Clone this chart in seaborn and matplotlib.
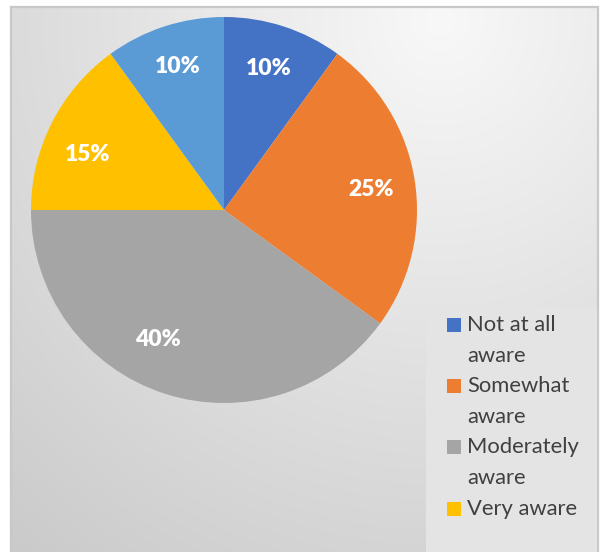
import numpy as np
import matplotlib
matplotlib.use("Agg")
import matplotlib.pyplot as plt
from matplotlib.patches import Rectangle
import seaborn as sns

# Awareness survey shares (percent)
categories = ["Not at all aware", "Somewhat aware", "Moderately aware", "Very aware", "Extremely aware"]
shares = [10, 25, 40, 15, 10]
legend_lines = [["Not at all", "aware"], ["Somewhat", "aware"], ["Moderately", "aware"], ["Very aware"]]
colors = sns.color_palette(["#4472C4", "#ED7D31", "#A5A5A5", "#FFC000", "#5B9BD5"])

sns.set_theme(style="white")
plt.rcParams["font.family"] = ["Lato", "DejaVu Sans"]

W, H = 601, 552
fig = plt.figure(figsize=(W / 100, H / 100), dpi=100)
fig.patch.set_facecolor("white")
ax = fig.add_axes([0, 0, 1, 1])
ax.set_axis_off()

# chart area: light radial gradient inside a thin grey frame
left, right, top = 11, 598, H - 7
yy, xx = np.mgrid[0:H, 0:W]
dist = np.hypot(xx - 440, yy - 20)
shade = np.clip(248 - 0.068 * dist, 190, 250) / 255.0
grad = np.dstack([shade, shade, shade])[7:, left:right]
ax.imshow(grad, extent=[left, right, -10, top], origin="upper", zorder=0, aspect="auto")
ax.plot([left, left, right, right], [-10, top, top, -10], color="#c8c8c8", lw=1.6, zorder=1,
        solid_joinstyle="miter")

# pie, clockwise from 12 o'clock
cx, cy, R = 224, H - 210, 193
wedges, _, autotexts = ax.pie(
    shares, colors=colors, startangle=90, counterclock=False,
    center=(cx, cy), radius=R, autopct=lambda p: f"{p:.0f}%", pctdistance=0.77,
    wedgeprops=dict(linewidth=0), textprops=dict(color="white", fontsize=16.5, fontweight="heavy"),
)
# small per-label shifts (pixels) for best-fit placement
label_shift = [(-1, 0), (0, -3), (-20, 12), (-4, -12), (0, 2)]
for w in wedges:
    w.set_zorder(2)
for t, (dx, dy) in zip(autotexts, label_shift):
    x, y = t.get_position()
    t.set_position((x + dx, y + dy))
    t.set_zorder(3)

# legend panel
lx0, ly_top = 426, H - 308
ax.add_patch(Rectangle((lx0, -10), right - lx0 - 1, ly_top + 10, facecolor="#e4e4e4",
                       edgecolor="none", zorder=4))
baseline = H - 331
step = 30.6
for color, lines in zip(colors, legend_lines):
    ax.add_patch(Rectangle((447, baseline - 1), 14, 14, facecolor=color, edgecolor="none", zorder=5))
    for line in lines:
        ax.text(467, baseline, line, fontsize=15.8, color="#404040", va="baseline", ha="left", zorder=5)
        baseline -= step

ax.set_xlim(0, W)
ax.set_ylim(0, H)
ax.set_aspect("auto")
fig.savefig("out.png", dpi=100)
